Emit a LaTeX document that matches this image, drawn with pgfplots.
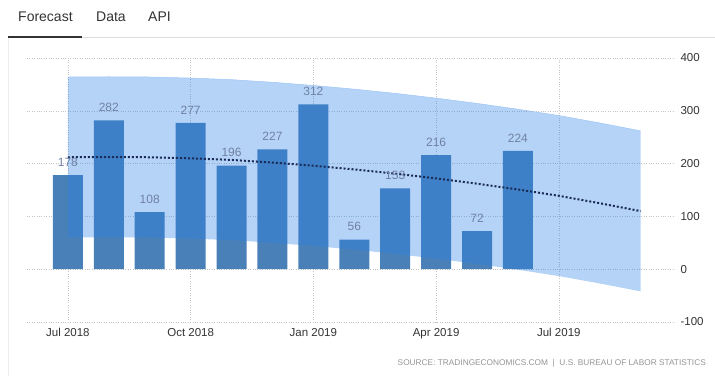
\documentclass[border=0pt]{standalone}
\usepackage{pgfplots}
\pgfplotsset{compat=1.18}
\usepackage{pgfplotstable}
\usepackage{fontspec}
\setmainfont{Liberation Sans}
\definecolor{barblue}{HTML}{4A80B8}
\definecolor{bandblue}{RGB}{42,128,232}
\definecolor{trendnavy}{HTML}{1B2B55}
\definecolor{lblgrey}{HTML}{7081A2}
\definecolor{gridgrey}{HTML}{C4C4C4}
\definecolor{tabtext}{HTML}{333333}

\pgfplotstableread{
x y
0 178
1 282
2 108
3 277
4 196
5 227
6 312
7 56
8 153
9 216
10 72
11 224
}\bars

\pgfplotstableread{
x mid
0 212
1 212.5
2 212
3 210
4 207
5 202
6 196
7 189
8 181
9 172
10 162
11 151
12 139
13 125
14 110
}\trend

\begin{document}
\begin{tikzpicture}
\path[use as bounding box] (0pt,0pt) rectangle (715pt,376pt);
% tabs
\node[anchor=base west, inner sep=0pt, text=tabtext, font=\fontsize{14}{16}\selectfont] at (18pt,355pt) {Forecast};
\node[anchor=base west, inner sep=0pt, text=tabtext, font=\fontsize{14}{16}\selectfont] at (96pt,355pt) {Data};
\node[anchor=base west, inner sep=0pt, text=tabtext, font=\fontsize{14}{16}\selectfont] at (148pt,355pt) {API};
\draw[color=black!13, line width=0.8pt] (82pt,339pt) -- (715pt,339pt);
\fill[tabtext] (8pt,338pt) rectangle (82pt,340.5pt);
\draw[color=black!7, line width=0.8pt] (8.5pt,0pt) -- (8.5pt,338pt);

\begin{axis}[
  at={(27pt,54pt)}, anchor=south west,
  scale only axis, width=648pt, height=264pt,
  xmin=-1, xmax=14.84, ymin=-100, ymax=400,
  axis line style={draw=none},
  major tick length=0pt,
  grid=major,
  major grid style={dotted, color=gridgrey, line width=0.6pt},
  xtick={0,3,6,9,12},
  xticklabels={Jul 2018,Oct 2018,Jan 2019,Apr 2019,Jul 2019},
  ytick={-100,0,100,200,300,400},
  yticklabel pos=right,
  /pgf/number format/assume math mode=true,
  yticklabel style={anchor=west, xshift=2pt, font=\fontsize{11.5}{13}\selectfont, text=tabtext},
  xticklabel style={font=\fontsize{11.5}{13}\selectfont, text=tabtext, yshift=-3pt},
  clip=false,
]
\addplot[ybar, bar width=30pt, fill=barblue, draw=none] table[x=x, y=y] {\bars};
\addplot[draw=none, fill=bandblue, fill opacity=0.35] coordinates {
  (0,364) (1,364.5) (2,364) (3,362) (4,359) (5,354) (6,348) (7,341) (8,333) (9,324) (10,314) (11,303) (12,291) (13,277) (14,262)
  (14,-42) (13,-27) (12,-13) (11,-1) (10,10) (9,20) (8,29) (7,37) (6,44) (5,50) (4,55) (3,58) (2,60) (1,60.5) (0,60)
} -- cycle;
\addplot[color=bandblue!45, line width=0.5pt] coordinates {
  (0,364) (1,364.5) (2,364) (3,362) (4,359) (5,354) (6,348) (7,341) (8,333) (9,324) (10,314) (11,303) (12,291) (13,277) (14,262)
};
\addplot[trendnavy, line width=2pt, dash pattern=on 2pt off 2pt] table[x=x, y=mid] {\trend};
\addplot[draw=none, mark=none, nodes near coords,
  nodes near coords style={anchor=center, yshift=13pt, text=lblgrey, font=\fontsize{12}{14}\selectfont}]
  table[x=x, y=y] {\bars};
\end{axis}

\node[anchor=base east, inner sep=0pt, text=black!42, font=\fontsize{8.3}{10}\selectfont] at (706pt,11pt) {SOURCE: TRADINGECONOMICS.COM \ | \ U.S. BUREAU OF LABOR STATISTICS};
\end{tikzpicture}
\end{document}
